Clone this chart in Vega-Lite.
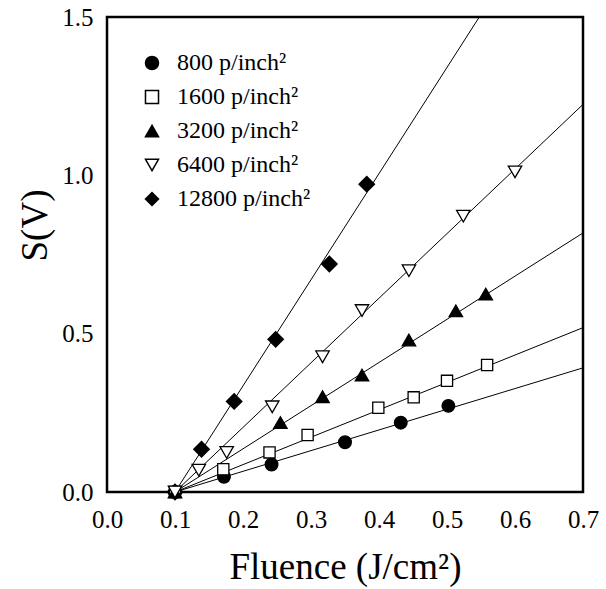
{
  "$schema": "https://vega.github.io/schema/vega-lite/v6.json",
  "width": 476,
  "height": 475,
  "autosize": {"type": "none"},
  "padding": {"left": 107, "top": 17, "right": 23, "bottom": 97},
  "background": "white",
  "config": {
    "font": "Liberation Serif",
    "view": {"stroke": "black", "strokeWidth": 2.5},
    "axis": {
      "domain": false,
      "grid": false,
      "ticks": false,
      "labelColor": "black",
      "labelFont": "Liberation Serif",
      "labelFontSize": 25,
      "labelFlush": false,
      "labelOverlap": false,
      "titleColor": "black",
      "titleFont": "Liberation Serif",
      "titleFontSize": 37,
      "titleFontWeight": "normal"
    }
  },
  "datasets": {
    "points": [
      {"series": "12800 p/inch²", "x": 0.1, "y": 0},
      {"series": "12800 p/inch²", "x": 0.139, "y": 0.135},
      {"series": "12800 p/inch²", "x": 0.187, "y": 0.286},
      {"series": "12800 p/inch²", "x": 0.248, "y": 0.482},
      {"series": "12800 p/inch²", "x": 0.327, "y": 0.72},
      {"series": "12800 p/inch²", "x": 0.382, "y": 0.972},
      {"series": "800 p/inch²", "x": 0.1, "y": 0},
      {"series": "800 p/inch²", "x": 0.172, "y": 0.048},
      {"series": "800 p/inch²", "x": 0.242, "y": 0.087},
      {"series": "800 p/inch²", "x": 0.35, "y": 0.157},
      {"series": "800 p/inch²", "x": 0.432, "y": 0.219},
      {"series": "800 p/inch²", "x": 0.502, "y": 0.272},
      {"series": "1600 p/inch²", "x": 0.1, "y": 0},
      {"series": "1600 p/inch²", "x": 0.171, "y": 0.072},
      {"series": "1600 p/inch²", "x": 0.239, "y": 0.125},
      {"series": "1600 p/inch²", "x": 0.295, "y": 0.18},
      {"series": "1600 p/inch²", "x": 0.399, "y": 0.266},
      {"series": "1600 p/inch²", "x": 0.451, "y": 0.299},
      {"series": "1600 p/inch²", "x": 0.5, "y": 0.351},
      {"series": "1600 p/inch²", "x": 0.559, "y": 0.401},
      {"series": "3200 p/inch²", "x": 0.1, "y": 0},
      {"series": "3200 p/inch²", "x": 0.255, "y": 0.219},
      {"series": "3200 p/inch²", "x": 0.317, "y": 0.301},
      {"series": "3200 p/inch²", "x": 0.375, "y": 0.369},
      {"series": "3200 p/inch²", "x": 0.444, "y": 0.48},
      {"series": "3200 p/inch²", "x": 0.513, "y": 0.572},
      {"series": "3200 p/inch²", "x": 0.557, "y": 0.625},
      {"series": "6400 p/inch²", "x": 0.1, "y": 0},
      {"series": "6400 p/inch²", "x": 0.135, "y": 0.069},
      {"series": "6400 p/inch²", "x": 0.176, "y": 0.125},
      {"series": "6400 p/inch²", "x": 0.243, "y": 0.269},
      {"series": "6400 p/inch²", "x": 0.317, "y": 0.427},
      {"series": "6400 p/inch²", "x": 0.375, "y": 0.573},
      {"series": "6400 p/inch²", "x": 0.444, "y": 0.699},
      {"series": "6400 p/inch²", "x": 0.524, "y": 0.871},
      {"series": "6400 p/inch²", "x": 0.6, "y": 1.011}
    ],
    "lines": [
      {"series": "800 p/inch²", "x": 0.1, "y": 0},
      {"series": "800 p/inch²", "x": 0.7, "y": 0.392},
      {"series": "1600 p/inch²", "x": 0.1, "y": 0},
      {"series": "1600 p/inch²", "x": 0.7, "y": 0.519},
      {"series": "3200 p/inch²", "x": 0.1, "y": 0},
      {"series": "3200 p/inch²", "x": 0.7, "y": 0.818},
      {"series": "6400 p/inch²", "x": 0.1, "y": 0},
      {"series": "6400 p/inch²", "x": 0.7, "y": 1.224},
      {"series": "12800 p/inch²", "x": 0.1, "y": 0},
      {"series": "12800 p/inch²", "x": 0.5475, "y": 1.5}
    ],
    "xticks": [
      {"x": 0.05}, {"x": 0.1}, {"x": 0.15}, {"x": 0.2}, {"x": 0.25}, {"x": 0.3}, {"x": 0.35},
      {"x": 0.4}, {"x": 0.45}, {"x": 0.5}, {"x": 0.55}, {"x": 0.6}, {"x": 0.65}
    ],
    "yticks": [
      {"y": 0.1}, {"y": 0.2}, {"y": 0.3}, {"y": 0.4}, {"y": 0.5}, {"y": 0.6}, {"y": 0.7},
      {"y": 0.8}, {"y": 0.9}, {"y": 1.0}, {"y": 1.1}, {"y": 1.2}, {"y": 1.3}, {"y": 1.4}
    ]
  },
  "encoding": {
    "x": {
      "field": "x",
      "type": "quantitative",
      "scale": {"domain": [0, 0.7], "nice": false, "zero": false},
      "axis": {
        "values": [0, 0.1, 0.2, 0.3, 0.4, 0.5, 0.6, 0.7],
        "format": ".1f",
        "labelPadding": 15,
        "title": "Fluence (J/cm²)",
        "titleY": 86,
        "titleBaseline": "alphabetic"
      }
    },
    "y": {
      "field": "y",
      "type": "quantitative",
      "scale": {"domain": [0, 1.5], "nice": false, "zero": false},
      "axis": {
        "values": [0, 0.5, 1.0, 1.5],
        "format": ".1f",
        "labelPadding": 14,
        "title": "S(V)",
        "titleX": -61,
        "titleY": 208,
        "titleAngle": -90,
        "titleAlign": "center",
        "titleBaseline": "alphabetic"
      }
    }
  },
  "layer": [
    {
      "data": {"name": "xticks"},
      "mark": {"type": "rule", "color": "black", "strokeWidth": 1.5},
      "encoding": {
        "y": {"datum": 0, "type": "quantitative"},
        "y2": {"datum": 0.022}
      }
    },
    {
      "data": {"name": "yticks"},
      "mark": {"type": "rule", "color": "black", "strokeWidth": 1.5},
      "encoding": {
        "x": {"datum": 0, "type": "quantitative"},
        "x2": {"datum": 0.0103}
      }
    },
    {
      "data": {"name": "lines"},
      "mark": {"type": "line", "color": "black", "strokeWidth": 1, "clip": true},
      "encoding": {"detail": {"field": "series", "type": "nominal"}}
    },
    {
      "data": {"name": "points"},
      "mark": {"type": "point", "filled": true, "stroke": "black", "strokeWidth": 1.3, "opacity": 1},
      "encoding": {
        "size": {
          "condition": [
            {"test": "datum.series === '12800 p/inch²'", "value": 240},
            {"test": "datum.series === '1600 p/inch²'", "value": 125},
            {"test": "datum.series === '800 p/inch²'", "value": 160}
          ],
          "value": 180
        },
        "shape": {
          "field": "series",
          "type": "nominal",
          "scale": {
            "domain": ["800 p/inch²", "1600 p/inch²", "3200 p/inch²", "6400 p/inch²", "12800 p/inch²"],
            "range": ["circle", "square", "triangle-up", "triangle-down", "diamond"]
          },
          "legend": {
            "title": null,
            "orient": "none",
            "legendX": 33,
            "legendY": 34,
            "labelFont": "Liberation Serif",
            "labelFontSize": 24,
            "labelColor": "black",
            "labelOffset": 13,
            "symbolSize": 170,
            "rowPadding": 10,
            "encode": {
              "symbols": {
                "update": {
                  "stroke": {"value": "black"},
                  "strokeWidth": {"value": 1.3},
                  "size": {"signal": "datum.value === '12800 p/inch²' ? 220 : datum.value === '1600 p/inch²' ? 120 : datum.value === '800 p/inch²' ? 165 : 175"}
                }
              },
              "labels": {
                "update": {
                  "font": {"value": "Liberation Serif"},
                  "fontSize": {"value": 24},
                  "fill": {"value": "black"}
                }
              }
            }
          }
        },
        "fill": {
          "field": "series",
          "type": "nominal",
          "scale": {
            "domain": ["800 p/inch²", "1600 p/inch²", "3200 p/inch²", "6400 p/inch²", "12800 p/inch²"],
            "range": ["black", "white", "black", "white", "black"]
          },
          "legend": {
            "title": null,
            "orient": "none",
            "legendX": 33,
            "legendY": 34,
            "labelFont": "Liberation Serif",
            "labelFontSize": 24,
            "labelColor": "black",
            "labelOffset": 13,
            "symbolSize": 170,
            "rowPadding": 10,
            "encode": {
              "symbols": {
                "update": {
                  "stroke": {"value": "black"},
                  "strokeWidth": {"value": 1.3},
                  "size": {"signal": "datum.value === '12800 p/inch²' ? 220 : datum.value === '1600 p/inch²' ? 120 : datum.value === '800 p/inch²' ? 165 : 175"}
                }
              },
              "labels": {
                "update": {
                  "font": {"value": "Liberation Serif"},
                  "fontSize": {"value": 24},
                  "fill": {"value": "black"}
                }
              }
            }
          }
        }
      }
    }
  ]
}
